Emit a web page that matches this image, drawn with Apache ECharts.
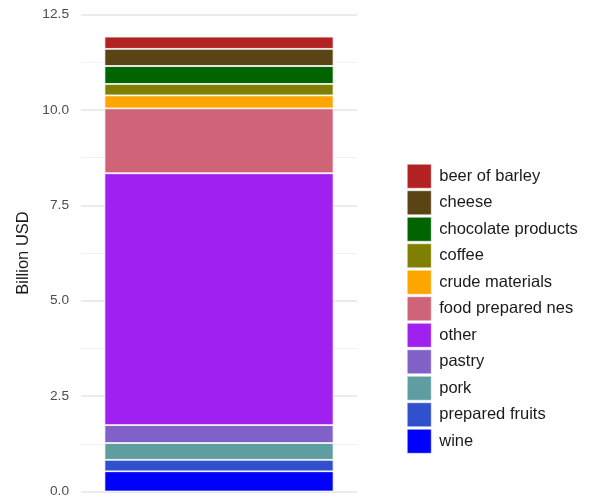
<!DOCTYPE html>
<html>
<head>
<meta charset="utf-8">
<script src="https://cdn.jsdelivr.net/npm/echarts@6/dist/echarts.min.js"></script>
<style>html,body{margin:0;padding:0;background:#fff}#c{width:591px;height:504px}</style>
</head>
<body>
<div id="c"></div>
<script>
// Stack order bottom -> top
var categories = ['wine', 'prepared fruits', 'pork', 'pastry', 'other', 'food prepared nes', 'crude materials', 'coffee', 'chocolate products', 'cheese', 'beer of barley'];
var values = [0.53, 0.30, 0.44, 0.47, 6.60, 1.70, 0.34, 0.30, 0.47, 0.45, 0.32];
var colors = ['#0000FF', '#3050CD', '#5F9EA0', '#8062C8', '#A020F0', '#CF6377', '#FFA500', '#808000', '#006400', '#5A4315', '#B22222'];
var legendOrder = ['beer of barley', 'cheese', 'chocolate products', 'coffee', 'crude materials', 'food prepared nes', 'other', 'pastry', 'pork', 'prepared fruits', 'wine'];
var yTicks = [0, 2.5, 5, 7.5, 10, 12.5];

var chart = echarts.init(document.getElementById('c'));
var series = categories.map(function (name, i) {
  return {
    name: name,
    type: 'bar',
    stack: 'total',
    barWidth: '83%',
    data: [values[i]],
    itemStyle: { color: colors[i], borderColor: '#ffffff', borderWidth: 0.8 },
    emphasis: { disabled: true }
  };
});
chart.setOption({
  animation: false,
  grid: { left: 81, right: 234, top: 14.5, bottom: 12.5, containLabel: false },
  legend: {
    data: legendOrder,
    orient: 'vertical',
    left: 407,
    top: 164,
    padding: 0,
    itemWidth: 24,
    itemHeight: 24,
    itemGap: 2,
    icon: 'rect',
    itemStyle: { borderColor: '#ffffff', borderWidth: 0.5 },
    textStyle: { fontFamily: 'Liberation Sans, Arial, sans-serif', fontSize: 16.5, color: '#1a1a1a', padding: [2, 0, 0, 3] }
  },
  xAxis: {
    type: 'category',
    data: [''],
    axisLine: { show: false },
    axisTick: { show: false },
    axisLabel: { show: false },
    splitLine: { show: false }
  },
  yAxis: {
    type: 'value',
    min: yTicks[0],
    max: yTicks[yTicks.length - 1],
    interval: 2.5,
    name: 'Billion USD',
    nameLocation: 'middle',
    nameGap: 49,
    nameTextStyle: { fontFamily: 'Liberation Sans, Arial, sans-serif', fontSize: 16.5, color: '#1a1a1a' },
    axisLine: { show: false },
    axisTick: { show: false },
    axisLabel: {
      margin: 12,
      fontFamily: 'Liberation Sans, Arial, sans-serif',
      fontSize: 13.7,
      color: '#4d4d4d',
      formatter: function (v) { return v.toFixed(1); }
    },
    splitLine: { show: true, lineStyle: { color: '#ebebeb', width: 1.8 } },
    minorTick: { show: false, splitNumber: 2 },
    minorSplitLine: { show: true, lineStyle: { color: '#f0f0f0', width: 0.9 } }
  },
  series: series
});
</script>
</body>
</html>
